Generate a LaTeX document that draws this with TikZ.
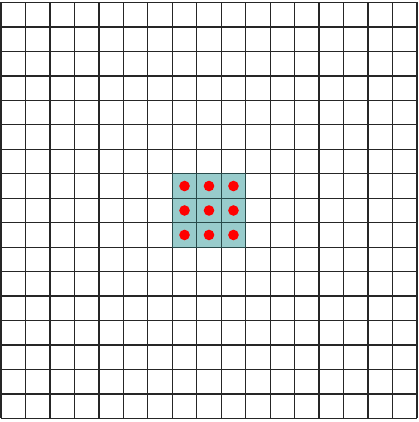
\documentclass[tikz,border=0pt]{standalone}
\definecolor{cellfill}{RGB}{152,204,204}
\definecolor{cellline}{RGB}{40,75,75}
\begin{document}
\begin{tikzpicture}[x=1pt,y=-1pt,
  gridline/.style={draw=black!85,line width=1.3pt},
  hicell/.style={fill=cellfill,draw=cellline,line width=1.3pt},
  dotmark/.style={fill=red,draw=none}]
\useasboundingbox (0,0) rectangle (419,422);
\def\s{24.47}
\def\xo{1}
\def\yo{2.5}
% highlighted cells
\foreach \i in {7,8,9}{
  \foreach \j in {7,8,9}{
    \path[hicell] ({\xo+\i*\s},{\yo+\j*\s}) rectangle ({\xo+(\i+1)*\s},{\yo+(\j+1)*\s});
  }
}
% grid
\foreach \k in {0,...,17}{
  \draw[gridline] ({\xo+\k*\s},\yo) -- ({\xo+\k*\s},{\yo+17*\s});
  \draw[gridline] (\xo,{\yo+\k*\s}) -- ({\xo+17*\s},{\yo+\k*\s});
}
% redraw highlighted borders and dots
\foreach \i in {7,8,9}{
  \foreach \j in {7,8,9}{
    \draw[draw=cellline,line width=1.3pt] ({\xo+\i*\s},{\yo+\j*\s}) rectangle ({\xo+(\i+1)*\s},{\yo+(\j+1)*\s});
    \fill[dotmark] ({\xo+(\i+0.5)*\s},{\yo+(\j+0.5)*\s}) circle (5.3);
  }
}
\end{tikzpicture}
\end{document}
